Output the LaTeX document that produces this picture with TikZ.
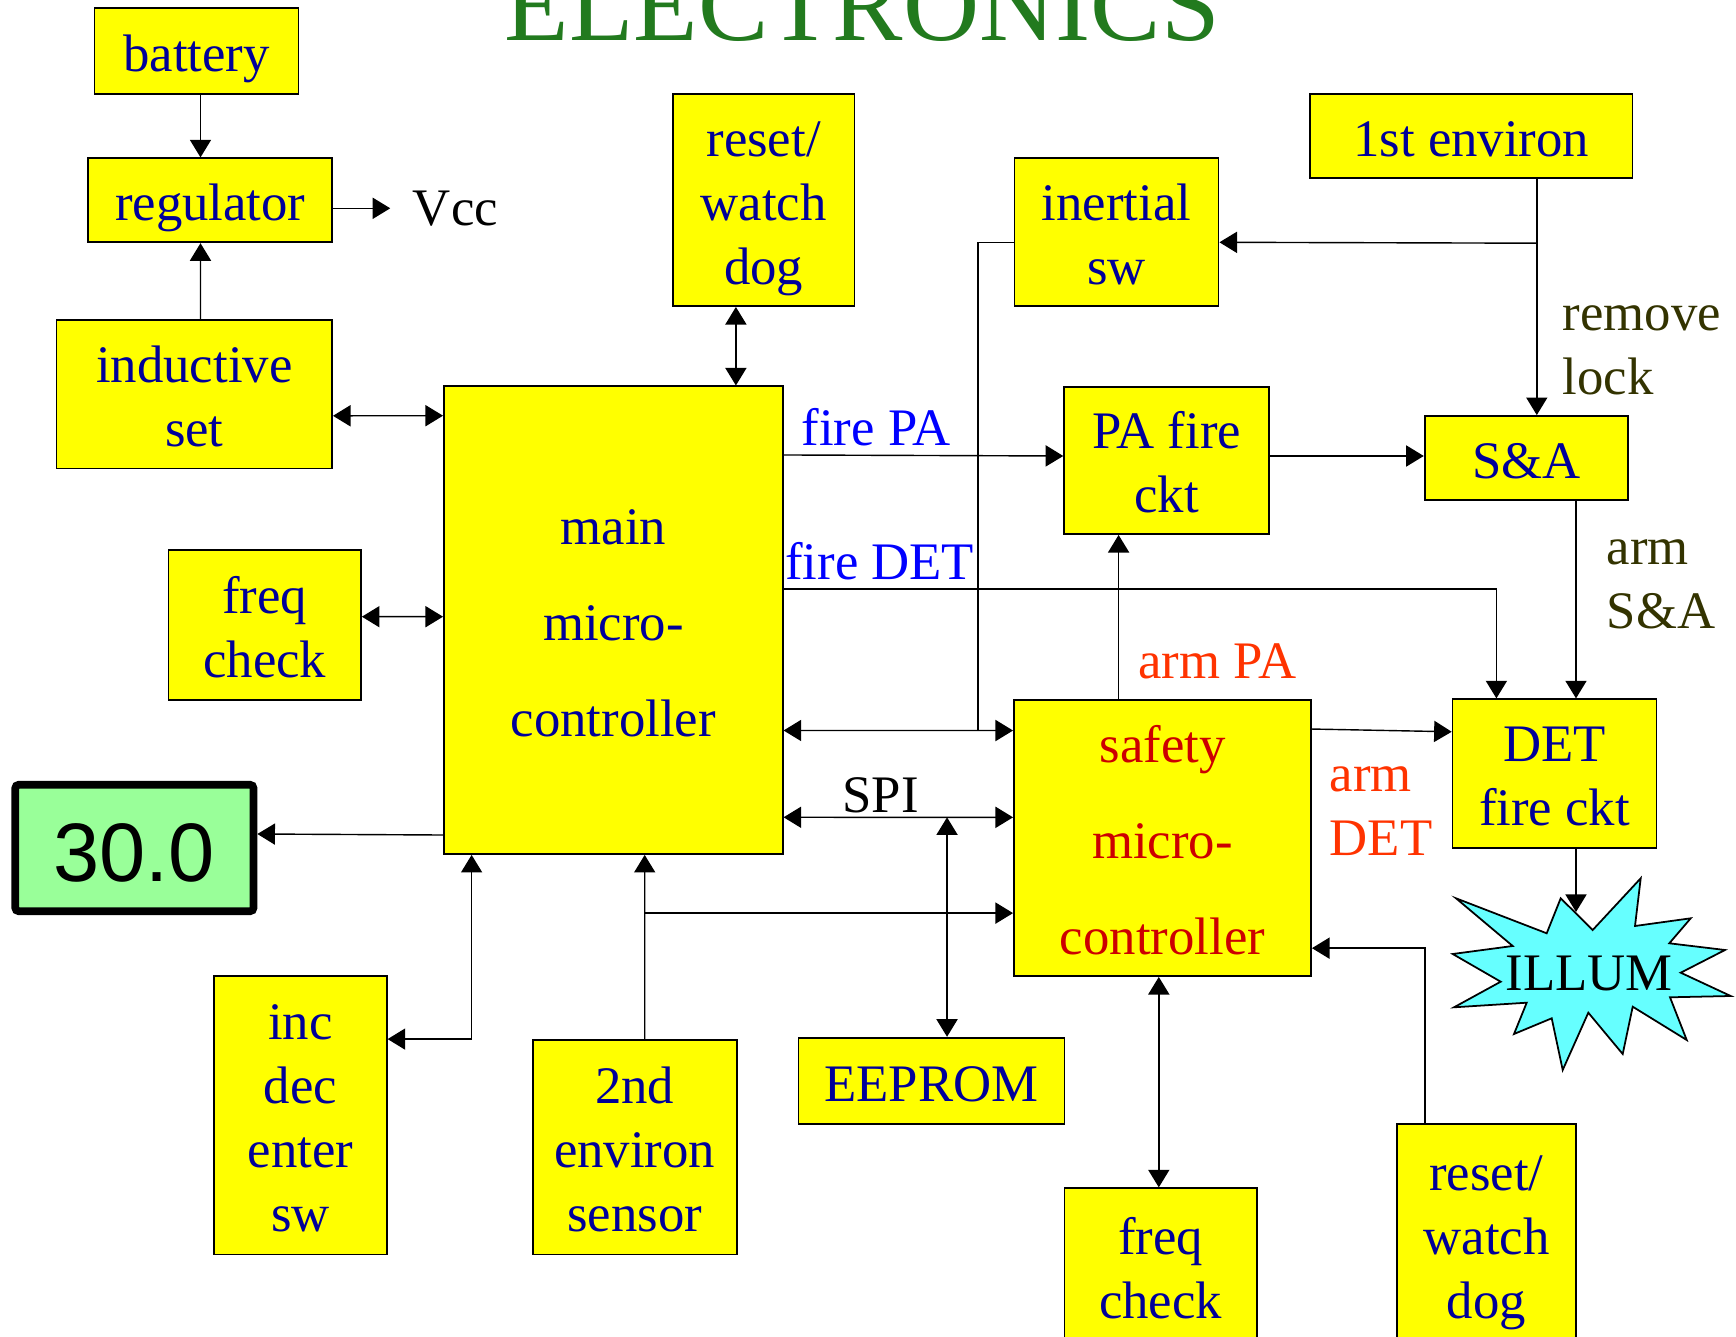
\documentclass[tikz,border=0pt]{standalone}
\usepackage{fontspec}
\setmainfont{Liberation Serif}
\newfontfamily\dispfont{Liberation Sans}
\usepackage{tikz}
\usetikzlibrary{arrows.meta, calc}
\definecolor{boxYellow}{RGB}{255,255,0}
\definecolor{boxText}{RGB}{0,0,153}
\definecolor{sigBlue}{RGB}{0,0,255}
\definecolor{armRed}{RGB}{255,51,0}
\definecolor{safeRed}{RGB}{204,0,0}
\definecolor{noteOlive}{RGB}{51,51,0}
\definecolor{titleGreen}{RGB}{34,122,30}
\definecolor{dispGreen}{RGB}{153,255,153}
\definecolor{illumCyan}{RGB}{102,255,255}
\newcommand{\tstr}{\rule{0pt}{15pt}}
\newcommand{\bstr}{\rule[-3.6pt]{0pt}{3.6pt}}

\begin{document}
\begin{tikzpicture}[x=0.01cm, y=-0.01cm,
    blk/.style={rectangle, draw=black, line width=0.5pt, fill=boxYellow, text=boxText,
      align=center, inner sep=0pt, font=\fontsize{15}{18.2}\selectfont},
    bigblk/.style={blk, font=\fontsize{15}{27.3}\selectfont},
    lbl/.style={inner sep=0pt, align=left, font=\fontsize{15}{18.2}\selectfont},
    link/.style={line width=0.4pt, black},
    arr/.style={link, -{Triangle[length=5pt, width=6pt]}},
    both/.style={link, {Triangle[length=5pt, width=6pt]}-{Triangle[length=5pt, width=6pt]}}]
  \useasboundingbox (0,0) rectangle (1736,1337);
  \node[anchor=base west, inner sep=0pt, text=titleGreen, font=\fontsize{30}{36}\selectfont] (title) at (504,41) {ELECTRONICS};
  \node[blk, minimum width=2.04cm, minimum height=0.86cm] (bat) at (196.5,51.3) {\tstr battery\bstr};
  \node[blk, minimum width=2.44cm, minimum height=0.84cm] (reg) at (210.3,200.3) {\tstr regulator\bstr};
  \node[blk, minimum width=2.754cm, minimum height=1.483cm] (ind) at (194.3,394.2) {\tstr inductive\\set\bstr};
  \node[blk, minimum width=1.925cm, minimum height=1.5cm] (frq) at (264.7,625) {\tstr freq\\check\bstr};
  \node[rectangle, draw=black, line width=2.2pt, rounded corners=1pt, fill=dispGreen, inner sep=0pt,
    minimum width=2.381cm, minimum height=1.264cm, text height=20pt, text depth=1.2pt,
    font=\dispfont\fontsize{23.6}{28}\selectfont] (disp) at (134.4,848) {30.0};
  \node[bigblk, minimum width=3.386cm, minimum height=4.674cm] (mcu) at (613.3,620.2) {\tstr main\\micro-\\controller\bstr};
  \node[blk, minimum width=1.818cm, minimum height=2.117cm] (wdg) at (763.6,200.2) {\tstr reset/\\watch\\dog\bstr};
  \node[blk, minimum width=2.04cm, minimum height=1.477cm] (inr) at (1116.5,232.2) {\tstr inertial\\sw\bstr};
  \node[blk, minimum width=3.224cm, minimum height=0.84cm] (env) at (1471.2,136.3) {\tstr 1st environ\bstr};
  \node[blk, minimum width=2.046cm, minimum height=1.473cm] (pa) at (1166.5,460.4) {\tstr PA fire\\ckt\bstr};
  \node[blk, minimum width=2.036cm, minimum height=0.84cm] (sa) at (1526.5,458) {\tstr S\&A\bstr};
  \node[bigblk, text=safeRed, minimum width=2.97cm, minimum height=2.76cm] (smcu) at (1162.5,838) {\tstr safety\\micro-\\controller\bstr};
  \node[blk, minimum width=2.037cm, minimum height=1.484cm] (det) at (1554.5,773.5) {\tstr DET\\fire ckt\bstr};
  \node[blk, minimum width=1.724cm, minimum height=2.783cm] (inc) at (300.5,1115.2) {\tstr inc\\dec\\enter\\sw\bstr};
  \node[blk, minimum width=2.04cm, minimum height=2.143cm] (env2) at (634.7,1147.2) {\tstr 2nd\\environ\\sensor\bstr};
  \node[blk, minimum width=2.66cm, minimum height=0.866cm] (eep) at (931.5,1081) {\tstr EEPROM\bstr};
  \node[blk, minimum width=1.922cm, minimum height=1.56cm] (frq2) at (1160.6,1266.3) {\tstr freq\\check\bstr};
  \node[blk, minimum width=1.79cm, minimum height=2.2cm] (wdg2) at (1486.5,1234.3) {\tstr reset/\\watch\\dog\bstr};
  \node[lbl, anchor=west, inner xsep=0.22cm] (vcc) at ($(reg.east)+(57,8)$) {Vcc};
  \draw[fill=illumCyan, line width=0.5pt] (1456,898.3) -- (1546.7,933.3) -- (1560.7,898.3) -- (1592.7,930)
    -- (1640.7,878.3) -- (1635,926) -- (1690.7,918.3) -- (1669.3,943.3) -- (1725,950) -- (1680.7,972.7)
    -- (1730.7,996) -- (1670,997.3) -- (1686.7,1040) -- (1632.7,1006.7) -- (1622.7,1054) -- (1588.3,1012.7)
    -- (1562.7,1070) -- (1551.7,1018.3) -- (1514,1034) -- (1526.7,1002.7) -- (1454,1007.3) -- (1500.7,981.7)
    -- (1452.7,954) -- (1512.7,946) -- cycle;
  \coordinate (illumtip) at (1576,912);
  \node[anchor=base, inner sep=0pt, font=\fontsize{15}{18.2}\selectfont] (illum) at (1589,990) {ILLUM};
  \node[lbl, anchor=base west, text=sigBlue] (lfpa) at (801,446) {fire PA};
  \node[lbl, anchor=base west, text=sigBlue] (lfdet) at (784.5,580) {fire DET};
  \node[lbl, anchor=base west] (lspi) at (841.9,812.3) {SPI};
  \node[lbl, anchor=base west, text=armRed] (lapa) at (1137.7,678.3) {arm PA};
  \node[lbl, anchor=west, text=armRed] (ladet) at (1329,803.9) {\tstr arm\\DET\bstr};
  \node[lbl, anchor=west, text=noteOlive] (lrem) at (1562,342.5) {\tstr remove\\lock\bstr};
  \node[lbl, anchor=west, text=noteOlive] (lasa) at (1606,576.7) {\tstr arm\\S\&A\bstr};
  \coordinate (j1) at ($(env.south)+(65.6,64)$);
  \coordinate (bus) at ($(smcu.north west)+(-35.1,31.5)$);
  \coordinate (spi) at ($(smcu.north west)+(-66,118.3)$);
  \coordinate (br) at ($(env2.north)+(10,-126)$);
  \coordinate (wd) at ($(wdg.south)+(-27.7,0)$);
  \draw[arr] ($(bat.south)+(4,0)$) -- ($(reg.north)+(-9.8,0)$);
  \draw[arr] ($(ind.north)+(6.2,0)$) -- ($(reg.south)+(-9.8,0)$);
  \draw[arr] (reg.east |- vcc.west) -- (vcc.west);
  \draw[both] ($(ind.north east)+(0,96.7)$) -- ($(mcu.north west)+(0,30.2)$);
  \draw[both] ($(frq.east)+(0,-8.3)$) -- ($(mcu.west)+(0,-3.5)$);
  \draw[arr] ($(mcu.south west)+(0,-19.9)$) -- ($(disp.east)+(0,-14)$);
  \draw[both] (wd) -- (wd |- mcu.north);
  \draw[arr] ($(mcu.north east)+(0,69.5)$) -- ($(pa.west)+(0,-4.4)$);
  \draw[arr] ($(pa.east)+(0,-4.4)$) -- ($(sa.west)+(0,-2)$);
  \draw[arr] ($(mcu.north east)+(0,203.5)$) -| ($(det.north)+(-58.1,0)$);
  \draw[arr] ($(env.south)+(65.6,0)$) -- ($(sa.north)+(10.3,0)$);
  \draw[arr] (j1) -- ($(inr.east)+(0,10.1)$);
  \draw[link] ($(inr.west)+(0,10.1)$) -| (bus);
  \draw[both] ($(mcu.north east)+(0,345)$) -- ($(smcu.north west)+(0,31.5)$);
  \draw[both] ($(mcu.north east)+(0,431.8)$) -- ($(smcu.north west)+(0,118.3)$);
  \draw[both] (spi) -- (spi |- eep.north);
  \draw[arr] ($(env2.north)+(10,0)$) -- ($(mcu.south)+(31.4,0)$);
  \draw[arr] (br) -- (br -| smcu.west);
  \draw[both] ($(mcu.south west)+(28.6,0)$) |- ($(inc.north east)+(0,64)$);
  \draw[arr] ($(smcu.north)+(-43.9,0)$) -- ($(pa.south)+(-47.9,0)$);
  \draw[arr] ($(smcu.north east)+(0,30)$) -- ($(det.north west)+(0,33.4)$);
  \draw[arr] ($(sa.south)+(49.5,0)$) -- ($(det.north)+(21.5,0)$);
  \draw[arr] ($(det.south)+(21.5,0)$) -- (illumtip);
  \draw[both] ($(smcu.south)+(-3.7,0)$) -- ($(frq2.north)+(-1.8,0)$);
  \draw[arr] ($(wdg2.north)+(-61.5,0)$) |- ($(smcu.south east)+(0,-28.8)$);
\end{tikzpicture}
\end{document}
